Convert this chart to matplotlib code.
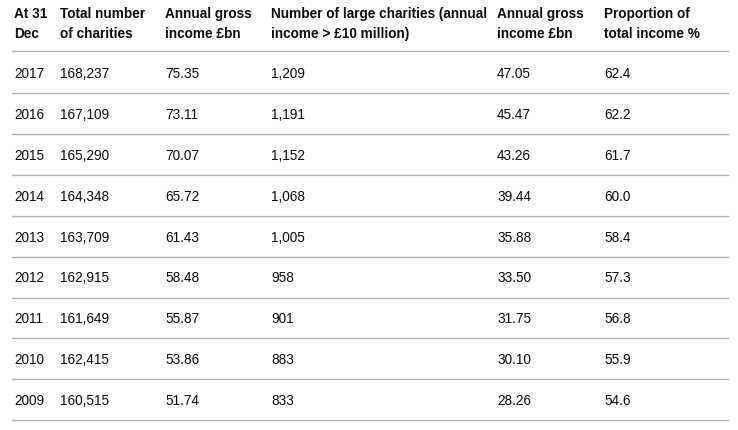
import matplotlib
matplotlib.use("Agg")
import matplotlib.pyplot as plt

headers = [["At 31", "Dec"], ["Total number", "of charities"], ["Annual gross", "income £bn"],
           ["Number of large charities (annual", "income > £10 million)"], ["Annual gross", "income £bn"],
           ["Proportion of", "total income %"]]
years = ["2017", "2016", "2015", "2014", "2013", "2012", "2011", "2010", "2009"]
total_charities = ["168,237", "167,109", "165,290", "164,348", "163,709", "162,915", "161,649", "162,415", "160,515"]
total_income = ["75.35", "73.11", "70.07", "65.72", "61.43", "58.48", "55.87", "53.86", "51.74"]
large_charities = ["1,209", "1,191", "1,152", "1,068", "1,005", "958", "901", "883", "833"]
large_income = ["47.05", "45.47", "43.26", "39.44", "35.88", "33.50", "31.75", "30.10", "28.26"]
proportion = ["62.4", "62.2", "61.7", "60.0", "58.4", "57.3", "56.8", "55.9", "54.6"]

W, H = 738, 431
fig = plt.figure(figsize=(W/100, H/100), dpi=100)
ax = fig.add_axes([0, 0, 1, 1])
ax.set_xlim(0, W); ax.set_ylim(H, 0); ax.axis("off")
col_x = [14, 60, 165, 271, 497, 604]
c = "#0b0c0c"
font = "Liberation Sans"
for x, h in zip(col_x, headers):
    ax.text(x, 18, h[0], fontsize=9.8, fontweight="bold", color=c, va="baseline", family=font)
    ax.text(x, 38, h[1], fontsize=9.8, fontweight="bold", color=c, va="baseline", family=font)
ax.plot([12, 728], [52, 52], color="#b1b4b6", lw=1)
cols = [years, total_charities, total_income, large_charities, large_income, proportion]
for i in range(len(years)):
    y = 73 + i * 40.9
    for x, col in zip(col_x, cols):
        ax.text(x, y + 5, col[i], fontsize=9.8, color=c, va="baseline", family=font)
    ax.plot([12, 728], [y + 21, y + 21], color="#b1b4b6", lw=1)
fig.savefig("out.png", dpi=100)
